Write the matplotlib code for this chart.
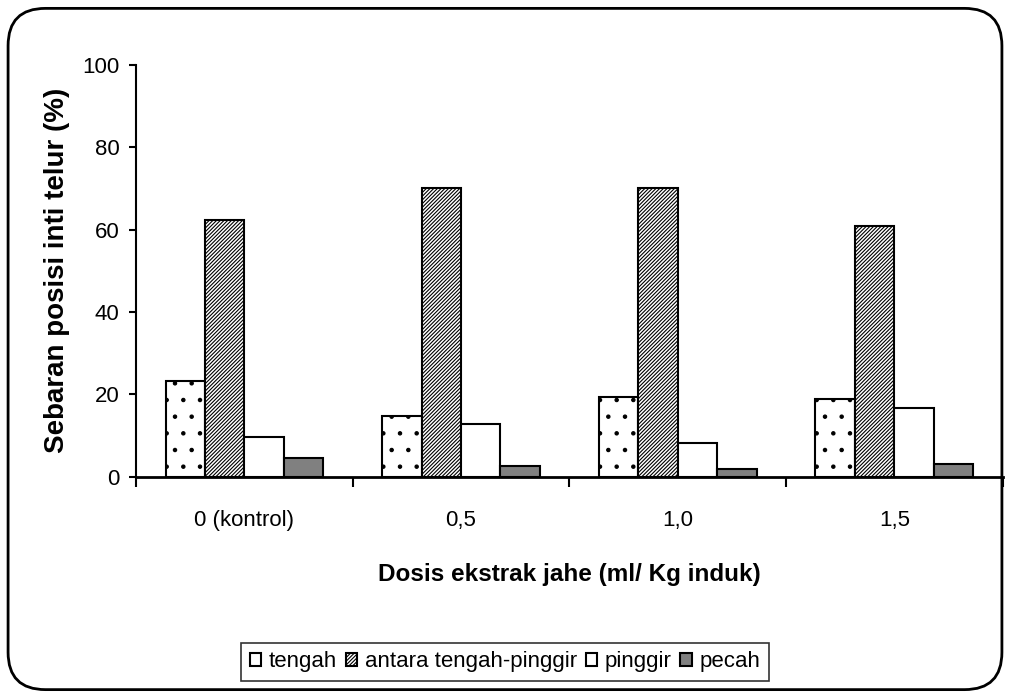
import numpy as np
import matplotlib.pyplot as plt
from matplotlib.patches import FancyBboxPatch

plt.rcParams['font.family'] = ['Liberation Sans', 'DejaVu Sans']
plt.rcParams['hatch.linewidth'] = 0.8

# Data
categories = ['0 (kontrol)', '0,5', '1,0', '1,5']
tengah = [23.3, 14.8, 19.4, 18.8]
antara = [62.3, 70.0, 70.0, 61.0]
pinggir = [9.6, 12.8, 8.3, 16.8]
pecah = [4.5, 2.5, 1.8, 3.1]

series = [
    ('tengah', tengah, 'white', '.'),
    ('antara tengah-pinggir', antara, 'white', '/' * 9),
    ('pinggir', pinggir, 'white', None),
    ('pecah', pecah, '#808080', None),
]

fig = plt.figure(figsize=(10.1, 6.98), dpi=100)
ax = fig.add_axes([0.1347, 0.317, 0.858, 0.590])

# rounded frame around the whole chart
frame = FancyBboxPatch((0.008, 0.012), 0.984, 0.976, boxstyle='round,pad=0,rounding_size=0.037',
                       transform=fig.transFigure, fill=False, edgecolor='black', linewidth=2,
                       mutation_aspect=1010 / 698)
fig.patches.append(frame)

x = np.arange(len(categories))
width = 0.182
for i, (name, vals, color, hatch) in enumerate(series):
    ax.bar(x + (i - 1.5) * width, vals, width, color=color, edgecolor='black',
           hatch=hatch, linewidth=1.5, label=name)

ax.set_xlim(-0.5, 3.5)
ax.set_ylim(0, 100)
ax.set_yticks(range(0, 101, 20))
ax.set_xticks(x)
ax.set_xticklabels(categories)
ax.set_xticks(np.arange(-0.5, 4, 1), minor=True)
ax.tick_params(axis='x', which='major', length=0, pad=24, labelsize=16)
ax.tick_params(axis='x', which='minor', length=7, width=1.5, direction='out')
ax.tick_params(axis='y', length=5, width=1.5, labelsize=16, pad=7)

for s in ['top', 'right']:
    ax.spines[s].set_visible(False)
ax.spines['left'].set_linewidth(1.5)
ax.spines['bottom'].set_linewidth(2)

ax.set_ylabel('Sebaran posisi inti telur (%)', fontsize=20, fontweight='bold')
ax.yaxis.set_label_coords(-0.0911, 0.5)
ax.yaxis.label.set_va('center')
ax.set_xlabel('Dosis ekstrak jahe (ml/ Kg induk)', fontsize=17.5, fontweight='bold')
ax.xaxis.set_label_coords(0.5, -0.238)
ax.xaxis.label.set_va('center')

leg = fig.legend(loc='center', bbox_to_anchor=(0.5, 0.0516), ncol=4, fontsize=16,
                 handlelength=0.5, handleheight=0.5, handletextpad=0.35, columnspacing=0.4,
                 frameon=True, fancybox=False, edgecolor='black', borderpad=0.4)
leg.get_frame().set_linewidth(1.2)

fig.savefig('out.png', dpi=100)
